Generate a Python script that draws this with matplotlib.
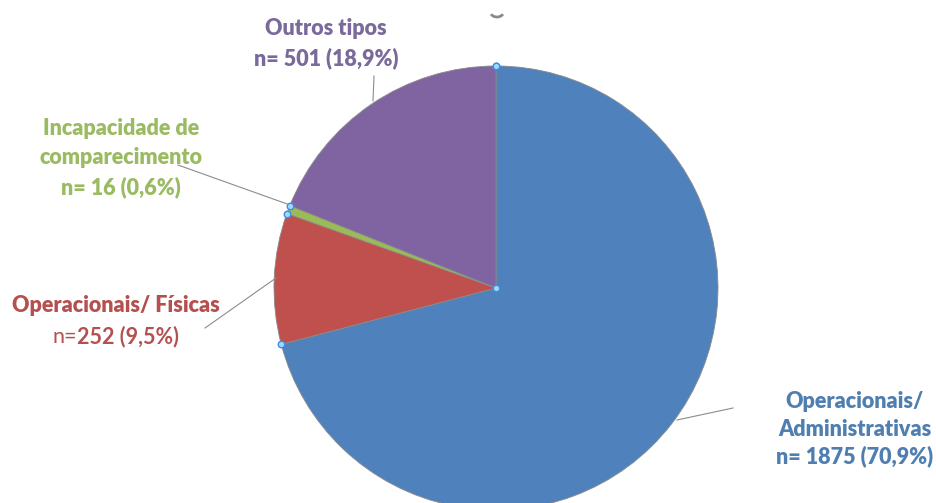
import numpy as np
import matplotlib.pyplot as plt
from matplotlib.patches import Arc

categories = ['Operacionais/\nAdministrativas', 'Operacionais/ Físicas',
              'Incapacidade de\ncomparecimento', 'Outros tipos']
counts = [1875, 252, 16, 501]
pct_labels = ['n= 1875 (70,9%)', 'n=252 (9,5%)', 'n= 16 (0,6%)', 'n= 501 (18,9%)']

colors = ['#4F81BD', '#C0504D', '#9BBB59', '#8064A2']
text_colors = ['#4F7EB0', '#B4504E', '#9BBB62', '#7A6A9C']

plt.rcParams['font.family'] = ['Lato', 'DejaVu Sans']

W, H = 936, 503
fig = plt.figure(figsize=(W / 100, H / 100), dpi=100)
ax = fig.add_axes([0, 0, 1, 1])

cx, cy, r = 496, H - 288, 222
wedges, _ = ax.pie(counts, colors=colors, startangle=90, counterclock=False,
                   center=(cx, cy), radius=r,
                   wedgeprops=dict(edgecolor='#8a8a8a', linewidth=0.6))
ax.set_xlim(0, W)
ax.set_ylim(0, H)
ax.set_aspect('equal')
ax.axis('off')

# selection handles at slice boundaries
angs = [wedges[0].theta2] + [w.theta1 for w in wedges]
hx = [cx + r * np.cos(np.radians(a)) for a in angs] + [cx]
hy = [cy + r * np.sin(np.radians(a)) for a in angs] + [cy]
ax.scatter(hx, hy, s=22, c='#9fd8ff', edgecolors='#3a8ee0', linewidths=1.0, zorder=5)

# bit of a cut-off title glyph at the top
ax.add_patch(Arc((497, H - 12), 13, 10, theta1=200, theta2=340,
                 color='#8a8a8a', lw=2))

# centre of first label line (pixels, top-left origin), leader line ends
label_pos = [(855, 402), (116, 306), (121, 128), (326, 28)]
steps = [27, 31, 29.5, 30]
leader = [((677, 420), (733, 408)),
          ((205, 328), (276, 278)),
          ((178, 165), (290, 205)),
          ((374, 76), (373, 101))]
fs = 15.5

fig.canvas.draw()
rend = fig.canvas.get_renderer()

for i in range(len(counts)):
    x, y = label_pos[i]
    lines = categories[i].split('\n') + [pct_labels[i]]
    for j, s in enumerate(lines):
        yy = H - (y + j * steps[i])
        if s.startswith('n=') and not s.startswith('n= '):
            # "n=" in normal weight, the number in bold
            t2 = ax.text(0, 0, s[2:], fontsize=fs, fontweight='bold')
            t1 = ax.text(0, 0, 'n=', fontsize=fs)
            w2 = t2.get_window_extent(rend).width
            w1 = t1.get_window_extent(rend).width
            x0 = x - (w1 + w2) / 2
            t1.set(x=x0, y=yy, ha='left', va='center', color=text_colors[i])
            t2.set(x=x0 + w1, y=yy, ha='left', va='center', color=text_colors[i])
        else:
            ax.text(x, yy, s, ha='center', va='center', fontsize=fs,
                    fontweight='heavy', color=text_colors[i])
    (x1, y1), (x2, y2) = leader[i]
    ax.plot([x1, x2], [H - y1, H - y2], color='#8c8c8c', lw=0.8, zorder=4)

fig.savefig('out.png', dpi=100)
